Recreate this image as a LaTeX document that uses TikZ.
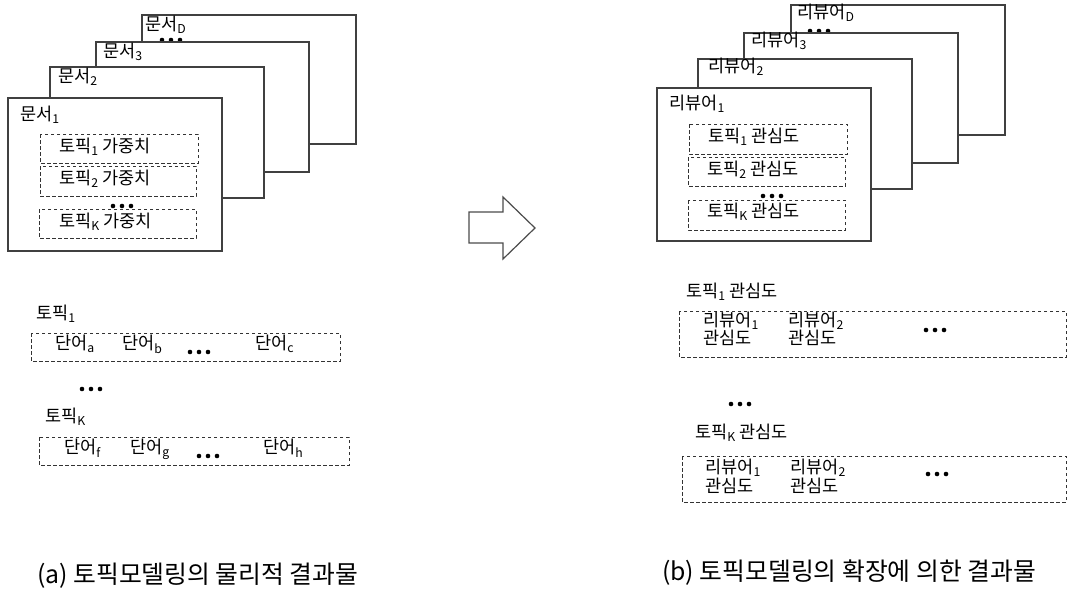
\documentclass[tikz,border=0pt]{standalone}
\usepackage{fontspec}
\setmainfont{Noto Sans CJK KR}
\newcommand\sbs[1]{\textsubscript{#1}}
\tikzset{
  card/.style={draw=black!75, line width=1.2pt, fill=white},
  dbox/.style={draw=black!80, dash pattern=on 3.5pt off 2.5pt, line width=0.9pt},
  lbl/.style={anchor=west, inner sep=0pt, text height=0.8em, text depth=0.08em, font=\fontsize{17.5}{20}\selectfont},
  captext/.style={anchor=west, inner sep=0pt, text height=0.8em, text depth=0.08em, font=\fontsize{24.8}{28}\selectfont},
  tridot/.pic={\fill (-9pt,0) circle (2.3pt); \fill (0,0) circle (2.3pt); \fill (9pt,0) circle (2.3pt);},
  blockarrow/.style={draw=black!70, line width=1.2pt, fill=white, line join=miter}
}
\begin{document}
\begin{tikzpicture}[x=1pt,y=-1pt]
\useasboundingbox (0,0) rectangle (1067,594);
% ---------- left stack ----------
\draw[card] (142,15) rectangle (356,144);
\node[lbl] (dD) at (145,27) {문서\sbs{D}};
\pic at (171,40) {tridot};
\draw[card] (96,42) rectangle (309,172);
\node[lbl] (d3) at (103,54) {문서\sbs{3}};
\draw[card] (50,67) rectangle (264,198);
\node[lbl] (d2) at (58,79) {문서\sbs{2}};
\draw[card] (8,98) rectangle (222,251);
\node[lbl] (d1) at (20,117) {문서\sbs{1}};
\draw[dbox] (40,134) rectangle (198,163);
\node[lbl] (w1) at (59,149) {토픽\sbs{1} 가중치};
\draw[dbox] (40,166) rectangle (196,196);
\node[lbl] (w2) at (59,181) {토픽\sbs{2} 가중치};
\pic at (122,206) {tridot};
\draw[dbox] (39,209) rectangle (196,238);
\node[lbl] (wK) at (59,224) {토픽\sbs{K} 가중치};
% ---------- left bottom ----------
\node[lbl] (t1) at (36,316) {토픽\sbs{1}};
\draw[dbox] (31,333) rectangle (340,361);
\node[lbl] (wa) at (55,346) {단어\sbs{a}};
\node[lbl] (wb) at (122,346) {단어\sbs{b}};
\pic at (199,352) {tridot};
\node[lbl] (wc) at (255,346) {단어\sbs{c}};
\pic at (91,389) {tridot};
\node[lbl] (tK) at (45,419) {토픽\sbs{K}};
\draw[dbox] (39,437) rectangle (349,465);
\node[lbl] (wf) at (64,450) {단어\sbs{f}};
\node[lbl] (wg) at (130,450) {단어\sbs{g}};
\pic at (208,456) {tridot};
\node[lbl] (wh) at (263,450) {단어\sbs{h}};
% ---------- arrow ----------
\draw[blockarrow] (469,212) -- (503,212) -- (503,197) -- (535,228) -- (503,259) -- (503,243) -- (469,243) -- cycle;
% ---------- right stack ----------
\draw[card] (791,5) rectangle (1005,135);
\node[lbl] (rD) at (797,15) {리뷰어\sbs{D}};
\pic at (819,31) {tridot};
\draw[card] (744,33) rectangle (958,163);
\node[lbl] (r3) at (751,43) {리뷰어\sbs{3}};
\draw[card] (698,59) rectangle (912,189);
\node[lbl] (r2) at (708,69) {리뷰어\sbs{2}};
\draw[card] (657,88) rectangle (871,241);
\node[lbl] (r1) at (669,106) {리뷰어\sbs{1}};
\draw[dbox] (689,124) rectangle (847,154);
\node[lbl] (i1) at (708,139) {토픽\sbs{1} 관심도};
\draw[dbox] (688,157) rectangle (845,186);
\node[lbl] (i2) at (707,172) {토픽\sbs{2} 관심도};
\pic at (772,196) {tridot};
\draw[dbox] (688,200) rectangle (845,230);
\node[lbl] (iK) at (707,214) {토픽\sbs{K} 관심도};
% ---------- right bottom ----------
\node[lbl] (u1) at (686,294) {토픽\sbs{1} 관심도};
\draw[dbox] (679,311) rectangle (1066,357);
\node[lbl] (u1a) at (703,323) {리뷰어\sbs{1}};
\node[lbl] (u1b) at (703,341) {관심도};
\node[lbl] (u2a) at (788,323) {리뷰어\sbs{2}};
\node[lbl] (u2b) at (788,341) {관심도};
\pic at (935,330) {tridot};
\pic at (740,404) {tridot};
\node[lbl] (uK) at (695,435) {토픽\sbs{K} 관심도};
\draw[dbox] (682,456) rectangle (1066,502);
\node[lbl] (v1a) at (705,470) {리뷰어\sbs{1}};
\node[lbl] (v1b) at (705,489) {관심도};
\node[lbl] (v2a) at (790,470) {리뷰어\sbs{2}};
\node[lbl] (v2b) at (790,489) {관심도};
\pic at (937,474) {tridot};
% ---------- captions ----------
\node[captext] (ca) at (37,580) {(a) 토픽모델링의 물리적 결과물};
\node[captext] (cb) at (662,577) {(b) 토픽모델링의 확장에 의한 결과물};
\end{tikzpicture}
\end{document}
